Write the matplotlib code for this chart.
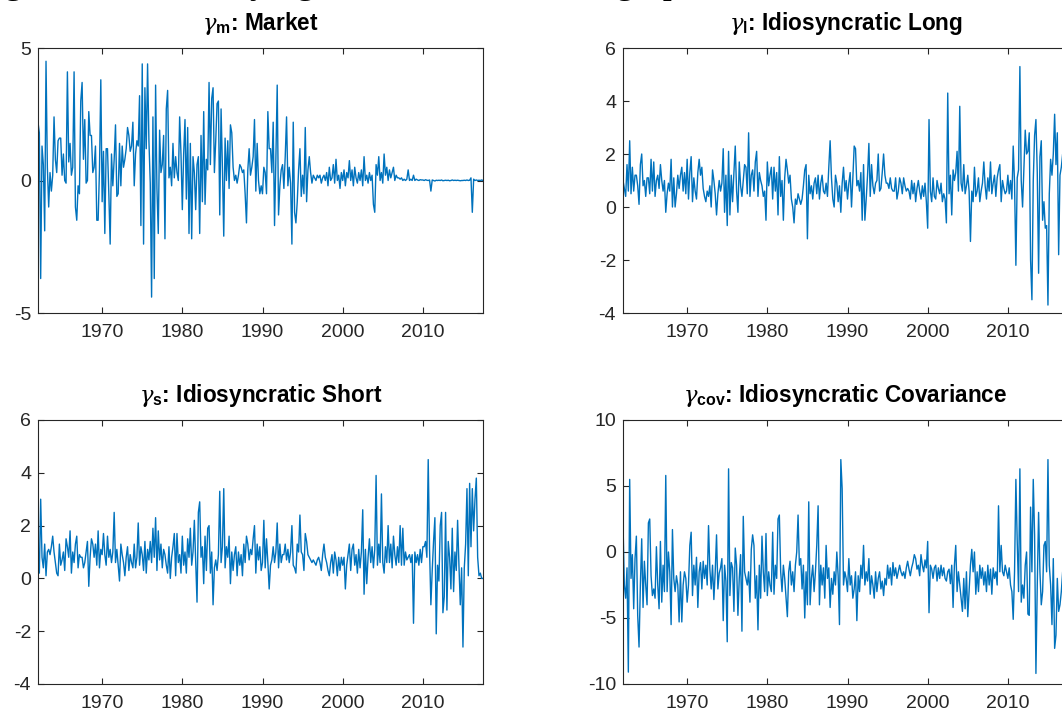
import numpy as np
import matplotlib
matplotlib.use("Agg")
import matplotlib.pyplot as plt

# Bi-monthly observations starting January 1962 (six values per year)
start_year = 1962.0
step = 1.0 / 6.0

gamma_m = [
    2.2, 1.8, -3.7, 1.3, 0.6, -1.9,   4.5, 0.5, -1.0, 0.3, -0.4, 0.2,
    2.4, 0.8, 0.3, 1.5, 1.6, 1.6,     0.2, 1.0, 0.0, -0.1, 4.1, 0.7,
    1.4, 0.2, 0.5, 4.1, -1.0, -1.5,   -0.2, -0.5, 3.0, 3.7, 0.8, 2.3,
    -0.1, 0.0, 2.6, 1.7, 1.7, 0.3,    0.5, 1.3, -1.5, -1.5, 0.4, 3.8,
    -0.8, 1.1, -2.0, 1.2, 1.2, -0.5,  -2.4, 1.0, -0.2, 0.8, 2.1, -0.6,
    -0.5, 1.4, -0.2, 1.3, 0.5, 0.8,   1.2, 2.0, 1.7, 1.1, 1.3, 2.2,
    -0.2, 1.0, 1.5, 1.3, 3.2, -1.7,   4.4, -2.4, 3.5, 1.2, 4.4, 1.5,
    -0.1, -4.4, 2.4, -3.7, 3.6, -0.3, -2.0, 1.9, 0.3, 0.6, 1.7, -2.2,
    2.7, 3.4, 0.1, 0.5, -0.2, 1.4,    0.1, 0.9, 0.3, 0.0, 2.4, 1.0,
    -1.1, 1.0, 2.3, -0.7, 2.0, -2.0,  1.4, -2.2, 0.9, 0.3, -1.1, 0.6,
    0.9, -2.0, 1.7, -0.8, 2.6, -0.9,  0.8, 0.4, 3.7, 0.6, 3.1, 3.5,
    0.3, 1.5, 2.9, 3.0, -1.3, 2.7,    0.5, -2.1, 1.6, 0.0, 1.5, -0.3,
    2.1, 1.8, 0.5, 0.0, 0.2, -0.1,    0.2, 0.6, 0.5, 0.3, 0.4, -0.5,
    -1.6, 0.4, 1.2, 0.2, 0.5, 0.9,    2.3, -0.4, 1.4, 0.0, -0.5, -0.2,
    -0.5, 0.5, 0.3, -0.5, 2.6, 1.2,   1.2, 0.3, 2.2, -1.7, 0.8, 3.6,
    -1.3, -0.2, 0.4, 0.6, -0.3, 0.9,  2.4, -0.2, 0.5, -0.1, -2.4, 2.2,
    -1.2, -1.6, -0.8, 0.4, 1.2, -0.6, 0.2, -0.5, 2.0, -0.8, 0.4, 0.9,
    0.3, -0.1, 0.2, 0.1, 0.0, 0.2,    0.1, 0.2, -0.1, 0.1, 0.2, 0.0,
    0.3, -0.2, 0.5, 0.0, 0.1, 0.6,    -0.1, 0.8, 0.0, 0.2, -0.3, 0.3,
    0.0, 0.4, -0.2, 0.3, 0.1, 0.75,   0.0, 0.4, -0.2, 0.5, 0.1, -0.1,
    0.3, 0.0, 0.4, -0.2, 0.9, 0.0,    0.2, -0.1, 0.3, 0.0, 0.2, -0.9,
    -1.2, 0.6, 0.2, 0.9, 0.0, 0.3,    -0.1, 1.0, 0.2, 0.5, 0.0, 0.4,
    0.1, 0.3, 0.5, 0.0, 0.2, 0.1,     0.1, 0.05, 0.1, 0.0, 0.05, 0.0,
    0.05, 0.4, 0.0, 0.05, 0.0, 0.2,   0.0, 0.05, 0.02, 0.0, 0.03, 0.02,
    0.02, 0.0, 0.03, 0.01, 0.0, 0.02, -0.4, 0.02, 0.0, -0.02, 0.01, 0.0,
    0.01, 0.0, 0.02, -0.01, 0.0, 0.01, 0.0, 0.01, -0.01, 0.0, 0.02, 0.0,
    0.01, 0.0, 0.01, 0.0, -0.01, 0.0, 0.0, 0.01, 0.0, 0.02, 0.0, 0.01,
    0.1, -1.2, 0.05, 0.0, 0.02, 0.0,  0.01, 0.0, 0.02, 0.0,
]

gamma_l = [
    1.0, 0.7, 0.4, 1.6, 0.6, 2.5,     0.5, 1.5, 0.6, 1.2, 1.2, 0.8,
    0.1, 1.6, 2.0, 0.8, 1.0, 0.4,     1.1, 1.1, 0.5, 1.8, 0.6, 1.7,
    0.4, 1.0, 1.2, 0.7, 1.6, 1.0,     0.6, 1.0, -0.2, 0.5, 0.9, 0.6,
    1.8, 0.0, 1.1, 0.0, 0.5, 1.2,     0.7, 1.2, 1.5, 0.6, 1.3, 0.5,
    1.8, 0.3, 1.3, 1.9, 0.2, 1.1,     0.6, 0.3, 1.3, 1.8, 1.2, 1.5,
    0.7, 0.4, 0.2, 0.6, 0.4, 0.8,     0.0, 1.4, 1.0, 0.5, -0.3, 0.5,
    1.0, 0.6, 0.9, 2.2, -0.2, 1.2,    -0.7, 2.1, -0.3, 1.2, 0.2, 1.3,
    2.3, 0.6, -0.2, 1.7, 0.8, 0.4,    1.0, 1.6, 1.5, 0.5, 2.8, 0.4,
    1.2, 1.4, 0.6, 1.7, 2.1, 0.4,     1.3, 1.0, 0.8, 0.4, 0.6, -0.5,
    1.7, 0.8, 1.2, 1.5, 0.3, 1.5,     0.6, 1.3, -0.3, 1.9, 0.4, 1.0,
    -0.5, 1.1, 1.8, 1.4, 0.9, 1.2,    0.3, 0.0, -0.6, 0.3, 0.1, 0.5,
    0.3, 0.1, 0.3, 0.8, 1.4, 1.6,     -1.2, 1.2, 0.5, 0.8, 0.3, 0.9,
    1.1, 0.5, 1.2, 0.3, 0.9, 1.2,     0.6, 0.5, 0.9, 0.4, 1.5, 2.5,
    1.1, 0.3, 0.0, 1.2, 0.9, 0.2,     0.8, -0.2, 0.9, 1.5, 0.6, 1.0,
    0.3, 0.9, 1.3, 0.0, 1.1, 2.3,     2.2, 0.8, 1.0, 0.6, 1.3, -0.5,
    1.6, -0.5, 0.3, 1.2, 2.4, 0.4,    1.6, 0.8, 0.5, 0.9, 1.0, 2.0,
    0.6, 0.7, 1.3, 2.0, 1.2, 0.9,     0.9, 0.7, 1.1, 0.7, 0.6, 0.6,
    1.1, 0.3, 0.6, 1.1, 0.9, 0.5,     1.1, 0.8, 0.6, 0.7, 0.6, 0.3,
    1.0, 0.5, 0.9, 0.2, 0.7, 1.0,     0.6, 0.3, 0.8, 0.4, 0.9, 0.2,
    -0.8, 3.3, 0.6, 0.2, 1.1, 0.4,    0.3, 1.0, 0.7, 0.5, 0.9, 0.2,
    0.5, 0.3, -0.6, 4.3, 0.5, 1.2,    -0.3, 1.4, 1.0, 1.3, 2.1, 0.6,
    3.8, 0.9, 0.6, 1.6, 0.5, 0.8,     1.2, 0.6, -1.3, 0.6, 0.2, 1.5,
    0.4, 0.6, 1.1, 0.2, 0.6, 0.9,     1.7, 0.8, 0.3, 1.1, 0.6, 1.7,
    0.5, 0.9, 1.2, 0.4, 1.1, 1.4,     1.6, 0.2, 1.0, 0.7, 0.5, 0.6,
    1.2, 0.5, 1.0, 0.3, 2.3, 0.9,     -2.2, 1.1, 1.4, 5.3, 1.0, 0.0,
    1.4, 2.9, 2.0, 2.1, 2.8, -2.0,    -3.5, 1.0, 2.7, 3.3, 1.3, -2.5,
    1.9, 2.5, -0.5, 0.2, -0.8, -0.7,  -3.7, 0.5, 1.8, 1.2, 2.0, 3.5,
    1.6, 2.8, -1.8, 1.2, 1.5, 2.0,    0.8, 1.6, 1.1, 1.3,
]

gamma_s = [
    0.5, 0.2, 3.0, 0.8, 0.4, 1.3,     0.1, 1.0, 1.1, 0.9, 1.2, 1.6,
    1.0, 0.6, 0.2, 0.1, 1.3, 0.5,     0.7, 1.0, 0.3, 1.5, 1.2, 0.8,
    1.8, 0.2, 1.0, 0.6, 1.3, 1.6,     0.4, 0.9, 0.8, 0.8, 0.4, 0.6,
    1.0, 1.4, -0.3, 0.8, 1.5, 1.3,    0.8, 1.3, 0.5, 1.8, 0.4, 1.1,
    0.9, 1.7, 0.9, 0.5, 1.6, 0.8,     1.1, 0.6, 1.0, 2.5, 0.6, 1.1,
    0.5, -0.1, 1.3, 0.9, 0.6, 0.1,    0.8, 1.2, 0.3, 0.9, 0.6, 0.4,
    1.3, 0.4, 0.8, 2.1, 0.5, 1.2,     0.9, 0.3, 1.4, 0.2, 1.1, 0.7,
    1.4, 0.6, 1.9, 0.8, 2.3, 0.3,     1.8, 0.7, 1.3, 0.4, 1.1, 0.9,
    0.5, 0.2, 1.2, 0.0, 0.8, 1.2,     1.7, 0.1, 1.7, 0.6, 0.9, 0.2,
    1.6, 0.5, 1.0, 0.2, 1.5, 0.8,     1.9, 0.5, 1.0, 2.2, 0.7, -0.9,
    2.5, 2.9, 0.8, 1.2, -0.2, 1.6,    0.3, 1.9, 2.0, 0.2, 1.0, -1.0,
    0.4, 0.7, 0.3, 0.9, 3.3, 0.6,     1.2, 3.4, 0.4, 1.2, 0.8, 1.6,
    -0.2, 1.0, 0.3, 0.9, 1.2, 0.1,    1.0, 0.5, 0.9, 0.1, 1.3, 0.6,
    1.6, 1.3, 0.7, 1.1, 0.9, 1.5,     2.0, 0.2, 1.3, 0.7, 1.2, 0.3,
    0.6, 2.2, 0.4, 1.5, 0.6, -0.4,    0.5, 0.7, 1.2, 0.6, 1.0, 2.1,
    0.4, 1.3, 0.6, 0.9, 0.9, 1.3,     0.7, 1.1, 0.6, 1.0, 2.0, 0.5,
    0.4, 0.2, 1.3, 1.0, 2.4, 1.0,     0.9, 0.3, 1.7, 1.4, 0.9, 0.8,
    0.7, 0.6, 0.7, 0.6, 0.5, 0.7,     0.8, 0.6, 0.3, 0.9, 1.3, 0.8,
    0.6, 0.3, 0.1, 0.6, 0.9, 0.2,     1.0, 0.7, 0.1, 0.8, 0.3, 0.8,
    0.5, 0.8, -0.4, 0.5, 0.9, 1.3,    0.3, 1.1, 1.3, 0.5, 0.9, 0.2,
    1.1, 0.4, 1.0, 2.6, -0.6, 1.1,    -0.2, 0.8, 1.5, 0.6, 1.2, 0.4,
    1.1, 3.9, 0.5, 1.3, 0.6, 3.2,     0.6, 0.2, 1.2, 0.6, 2.0, 0.6,
    1.3, 0.4, 1.6, 0.9, 0.5, 1.2,     0.6, 2.0, 0.5, 1.9, 0.5, 1.0,
    0.7, 0.8, 0.9, 0.6, 0.9, -1.7,    1.0, 0.6, 0.9, 0.5, 1.1, 0.6,
    1.2, 1.2, 1.4, 0.8, 4.5, 1.1,     -1.0, 0.3, 1.4, 2.3, -2.1, 0.5,
    -0.1, 2.0, 2.5, -1.3, -0.7, 2.5,  -1.2, 1.4, 0.8, -0.4, 1.9, -0.5,
    1.0, 0.3, 2.2, 0.5, -1.0, 0.4,    -2.6, 0.4, 1.3, 3.4, 0.1, 3.6,
    1.2, 3.4, 1.8, 3.0, 3.8, 0.8,     0.1, 0.2, 0.0, 0.0,
]

gamma_cov = [
    2.2, -2.5, -3.5, -1.2, -9.1, 5.5,   -2.0, -0.2, -4.3, -0.5, 1.2, -4.8,
    -7.2, -2.5, 1.0, -4.2, -0.7, -2.5,  -4.0, 2.2, 2.5, -1.8, -3.3, -2.8,
    -3.5, 0.4, -2.5, -4.3, 0.8, -3.8,   -1.0, -3.0, 5.8, -3.0, 0.0, -1.5,
    -5.5, 1.7, -2.0, -3.0, -1.8, -2.5,  -5.3, -1.5, -5.3, -2.5, -1.5, -2.0,
    -3.8, -2.5, 0.5, 1.5, -3.3, -1.0,   -2.5, -0.4, -4.2, -1.5, -0.8, -2.8,
    -0.7, -2.0, -1.0, -2.5, 2.0, -1.3,  -2.8, -1.0, -3.6, -1.5, 1.3, -2.8,
    -1.6, -1.2, -0.5, -5.2, -1.0, -2.2, -6.8, 6.3, -3.3, -0.8, -1.2, -4.5,
    0.3, -1.0, -4.8, -2.0, -0.2, -6.0,  2.7, -1.5, -2.0, -2.5, -1.5, -3.8,
    0.2, 1.3, 0.5, -3.5, -1.8, -5.9,    -1.0, -3.5, 1.2, -1.5, -3.0, 1.4,
    -3.3, -1.5, -2.5, -3.0, 1.5, -3.2,  -1.0, -2.0, 2.5, 2.8, -1.5, -3.0,
    -1.0, -2.0, -3.5, -4.9, -1.5, -0.7, -2.5, -1.5, -3.0, -1.0, 0.0, 2.8,
    -1.0, -0.5, -2.8, -1.0, -5.0, -1.5, -4.0, 3.8, -4.0, -2.0, -1.0, -3.0,
    -1.5, 0.5, 3.5, -4.0, -1.0, -2.5,   -1.2, -3.5, 0.5, -2.0, -1.2, -4.2,
    -2.0, -3.2, -1.5, -2.5, 0.0, -1.8,  -5.5, 7.0, 4.8, -2.5, -1.5, -2.0,
    -3.0, -0.5, -2.5, -1.8, -3.5, -2.8, -1.5, -5.2, -1.8, -3.0, -1.0, -2.0,
    0.5, -2.5, -1.5, -2.2, -0.5, -3.2,  -1.8, -2.5, -3.5, -1.5, -3.0, -2.0,
    -1.5, -2.8, -2.2, -3.3, -2.0, -2.5, -1.0, -2.0, -1.2, -2.5, -0.8, -1.8,
    -1.2, -2.0, -1.5, -1.0, -1.5, -1.8, -1.5, -2.0, -1.2, -0.7, -1.3, -1.8,
    -1.2, -0.8, -0.2, -0.5, -1.3, -1.0, -1.8, -0.2, -1.0, -1.5, -0.6, -1.2,
    0.8, -4.6, -1.0, -1.3, -2.0, -1.2,  -1.0, -2.2, -1.2, -2.0, -1.0, -1.8,
    -1.2, -2.0, -2.2, -1.5, -1.3, -2.4, -1.0, -4.2, -1.0, 0.5, -3.0, -1.5,
    -2.5, -3.5, -4.5, -2.0, -4.3, -1.5, -4.9, -3.0, -1.0, 0.2, -1.5, 0.0,
    -3.2, -1.5, -3.0, -1.0, -2.0, -1.2, -2.5, -1.5, -3.0, -1.0, -2.5, -1.3,
    -3.2, -1.2, -2.0, -1.5, -2.5, 3.5,  -1.5, 0.5, -1.5, -1.8, -1.0, -1.5,
    -2.0, -1.2, -2.5, -3.0, -5.1, -1.5, 5.5, 0.8, -3.0, 6.3, -3.8, -2.5,
    -3.5, -1.0, 0.0, -4.7, -4.8, 3.4,   -1.5, 5.5, 1.3, -9.2, -2.5, 3.0,
    -1.5, -4.0, -3.0, 0.5, 0.8, -1.5,   7.0, -1.0, -2.5, -5.5, -0.5, -7.3,
    -6.3, -2.0, -4.5, -4.0, -3.0, -1.5, -2.5, -1.0, -2.0, -1.5,
]

titles = [
    r"$\gamma_{\mathbf{m}}$: Market",
    r"$\gamma_{\mathbf{l}}$: Idiosyncratic Long",
    r"$\gamma_{\mathbf{s}}$: Idiosyncratic Short",
    r"$\gamma_{\mathbf{cov}}$: Idiosyncratic Covariance",
]
series = [gamma_m, gamma_l, gamma_s, gamma_cov]
y_limits = [(-5, 5), (-4, 6), (-4, 6), (-10, 10)]
y_ticks = [[-5, 0, 5], [-4, -2, 0, 2, 4, 6], [-4, -2, 0, 2, 4, 6],
           [-10, -5, 0, 5, 10]]
x_ticks = [1970, 1980, 1990, 2000, 2010]
x_limits = (1962.0, 2017.5)

caption = "Figure 4: Time-varying coefficients in each graph"

plt.rcParams["font.family"] = ["Liberation Sans", "DejaVu Sans"]
plt.rcParams["axes.unicode_minus"] = False
plt.rcParams["mathtext.fontset"] = "custom"
plt.rcParams["mathtext.rm"] = "Liberation Sans:bold"
plt.rcParams["mathtext.bf"] = "Liberation Sans:bold"
plt.rcParams["mathtext.it"] = "DejaVu Serif:italic"

W, H = 1062, 710
fig = plt.figure(figsize=(W / 100, H / 100), dpi=100)

axis_grey = "#262626"
line_blue = "#0072BD"

# panel boxes in pixels: (left, top, width, height)
boxes = [(38, 48, 445, 265), (623, 48, 445, 265),
         (38, 420, 445, 264), (623, 420, 445, 264)]

for box, vals, title, ylim, yt in zip(boxes, series, titles, y_limits, y_ticks):
    l, t, w, h = box
    ax = fig.add_axes([l / W, 1 - (t + h) / H, w / W, h / H])
    x = start_year + step * np.arange(len(vals))
    ax.plot(x, vals, color=line_blue, lw=1.0)
    ax.set_xlim(*x_limits)
    ax.set_ylim(*ylim)
    ax.set_xticks(x_ticks)
    ax.set_yticks(yt)
    ax.tick_params(direction="in", top=True, right=True, length=4.5,
                   width=0.8, colors=axis_grey, labelsize=14)
    ax.tick_params(axis="y", pad=5)
    ax.tick_params(axis="x", pad=8)
    for sp in ax.spines.values():
        sp.set_color(axis_grey)
        sp.set_linewidth(0.8)
    ax.set_title(title, fontsize=16.3, fontweight="bold", color="black", pad=13)

# caption line of the page above the figure; only its lowest strokes fall inside
fig.text(-26 / W, 1.0 + 7 / H, caption, family="Liberation Serif",
         fontsize=26.3, va="baseline", ha="left", color="black")

fig.savefig("out.png", dpi=100)
